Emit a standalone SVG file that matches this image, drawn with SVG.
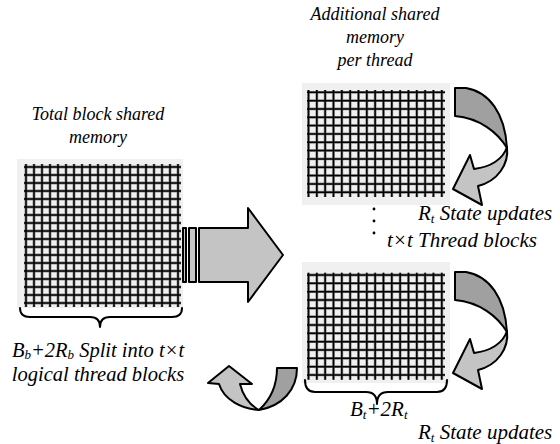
<svg xmlns="http://www.w3.org/2000/svg" xmlns:xlink="http://www.w3.org/1999/xlink" width="560" height="444" viewBox="0 0 560 444">
  <style>
    text { font-family: 'Liberation Serif', 'Times New Roman', serif; font-style: italic; font-size: 18px; fill: #000; }
    .big { font-size: 21px; }
    .mid { font-size: 20.5px; }
    .sub { font-size: 13px; }
    .bg { fill: #f0f0f0; }
    .gl-halo { fill: none; stroke: #8c8c8c; stroke-width: 2.8; }
    .gl { fill: none; stroke: #000; stroke-width: 1.5; }
    .brace { fill: none; stroke: #000; stroke-width: 2; stroke-linecap: round; stroke-linejoin: round; }
    .arr { stroke: #000; stroke-width: 2; stroke-linejoin: round; }
    .light { fill: #c4c4c4; }
    .dark { fill: #a0a0a0; }
  </style>
  <defs>
    <!-- 19x17 cell lattice for the block-level shared memory -->
    <path id="lgrid" d="M26,164v143m8,-143v143m8,-143v143m8,-143v143m8,-143v143m8,-143v143m8,-143v143m8,-143v143m8,-143v143m8,-143v143m8,-143v143m8,-143v143m8,-143v143m8,-143v143m8,-143v143m8,-143v143m8,-143v143m8,-143v143m8,-143v143m8,-143v143M24,167h157m-157,8h157m-157,8h157m-157,8h157m-157,8h157m-157,8h157m-157,8h157m-157,8h157m-157,8h157m-157,8h157m-157,8h157m-157,8h157m-157,8h157m-157,8h157m-157,8h157m-157,8h157m-157,8h157m-157,8h157"/>
    <!-- 16x12 cell lattice for per-thread shared memory -->
    <path id="rgrid" d="M308.5,90v107m8.33,-107v107m8.33,-107v107m8.33,-107v107m8.33,-107v107m8.33,-107v107m8.33,-107v107m8.33,-107v107m8.33,-107v107m8.33,-107v107m8.33,-107v107m8.33,-107v107m8.33,-107v107m8.33,-107v107m8.33,-107v107m8.33,-107v107m8.33,-107v107M307,92.3h138m-138,8.33h138m-138,8.33h138m-138,8.33h138m-138,8.33h138m-138,8.33h138m-138,8.33h138m-138,8.33h138m-138,8.33h138m-138,8.33h138m-138,8.33h138m-138,8.33h138m-138,8.33h138"/>
    <!-- curved "state update" arrow: back ribbon and front ribbon with head -->
    <g id="turn">
      <path class="arr dark" d="M455,88 L466,88 C489,92 505,113 507,148 C498,133 480,118 455,116 Z"/>
      <path class="arr light" d="M507,147 C509,164 498,181 478,186 L482,205 L453,189 L470,155 L474,169 C491,167 503,159 507,147 Z"/>
    </g>
  </defs>

  <!-- whole-block shared memory -->
  <g id="block-memory">
    <rect class="bg" x="17" y="159" width="166" height="149"/>
    <use xlink:href="#lgrid" class="gl-halo"/>
    <use xlink:href="#lgrid" class="gl"/>
    <text x="98" y="120" text-anchor="middle">Total block shared</text>
    <text x="98" y="143" text-anchor="middle">memory</text>
    <path class="brace" d="M20,308 Q20,317 30,317 L90,317 Q100,317 100,327 Q100,317 110,317 L172,317 Q182,317 182,308"/>
    <text class="mid" x="98" y="357" text-anchor="middle">B<tspan class="sub" dy="2">b</tspan><tspan dy="-2">+2R</tspan><tspan class="sub" dy="2">b</tspan><tspan dy="-2"> Split into t×t</tspan></text>
    <text class="mid" x="98" y="381" text-anchor="middle">logical thread blocks</text>
  </g>

  <!-- per-thread shared memory, first thread block -->
  <g id="thread-memory-1">
    <rect class="bg" x="302" y="83" width="148" height="122"/>
    <use xlink:href="#rgrid" class="gl-halo"/>
    <use xlink:href="#rgrid" class="gl"/>
    <text x="375" y="20" text-anchor="middle">Additional shared</text>
    <text x="375" y="43" text-anchor="middle">memory</text>
    <text x="375" y="66" text-anchor="middle">per thread</text>
    <text class="big" x="418" y="220">R<tspan class="sub" dy="3">t</tspan><tspan dy="-3"> State updates</tspan></text>
  </g>

  <!-- ellipsis between the thread blocks -->
  <g id="thread-count">
    <circle cx="374" cy="209" r="1.4"/>
    <circle cx="374" cy="221" r="1.4"/>
    <circle cx="374" cy="233" r="1.4"/>
    <text class="big" x="387" y="247">t×t Thread blocks</text>
  </g>

  <!-- per-thread shared memory, last thread block -->
  <g id="thread-memory-2">
    <rect class="bg" x="302" y="262" width="148" height="121"/>
    <g transform="translate(0,182.7)">
      <use xlink:href="#rgrid" class="gl-halo"/>
      <use xlink:href="#rgrid" class="gl"/>
    </g>
    <path class="brace" d="M305,380 Q305,392 315,392 L366,392 Q377,392 377,404 Q377,392 388,392 L437,392 Q447,392 447,380"/>
    <text class="big" x="350" y="416">B<tspan class="sub" dy="3">t</tspan><tspan dy="-3">+2R</tspan><tspan class="sub" dy="3">t</tspan></text>
    <text class="big" x="418" y="439">R<tspan class="sub" dy="3">t</tspan><tspan dy="-3"> State updates</tspan></text>
  </g>

  <g id="connectors">
    <!-- striped block arrow: split into thread blocks -->
    <rect class="arr light" x="183" y="228" width="3" height="54"/>
    <rect class="arr light" x="189" y="228" width="7" height="54"/>
    <path class="arr light" d="M199,228 H248 V208 L283,255 L248,302 V282 H199 Z"/>
    <!-- state update loops -->
    <use xlink:href="#turn"/>
    <use xlink:href="#turn" transform="translate(0,184)"/>
    <!-- write-back to block memory -->
    <path class="arr dark" d="M277,368 L297,368 C297,390 282,406 259,410 C270,400 277,386 277,368 Z"/>
    <path class="arr light" d="M259,410 C242,409 224,400 219,384 L208,383 L229,366 L252,384 L240,384 C243,396 250,405 259,410 Z"/>
  </g>
</svg>
